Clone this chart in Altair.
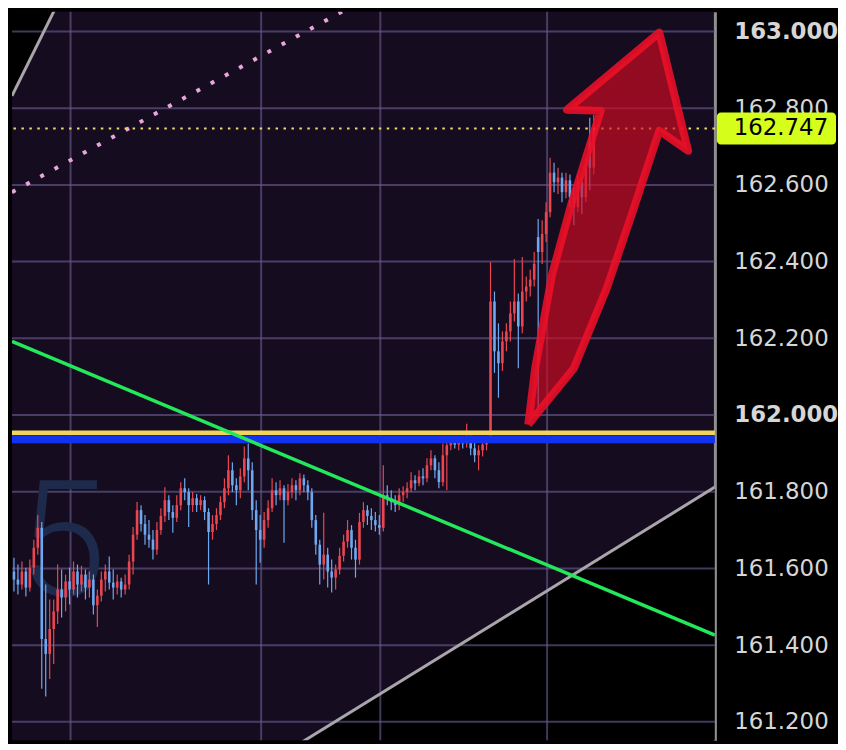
import altair as alt
import pandas as pd

# ---------------- candle data (price, 5-minute bars) ----------------
opens = [
    161.592, 161.571, 161.558, 161.592, 161.550, 161.602, 161.654, 161.706, 161.416, 161.377,
    161.442, 161.488, 161.545, 161.524, 161.566, 161.545, 161.592, 161.558, 161.584, 161.550,
    161.571, 161.504, 161.529, 161.571, 161.592, 161.563, 161.550, 161.566, 161.545, 161.558,
    161.618, 161.688, 161.752, 161.716, 161.688, 161.675, 161.649, 161.700, 161.737, 161.778,
    161.747, 161.732, 161.765, 161.809, 161.799, 161.765, 161.783, 161.765, 161.778, 161.747,
    161.695, 161.716, 161.739, 161.773, 161.809, 161.856, 161.817, 161.804, 161.840, 161.887,
    161.856, 161.752, 161.700, 161.675, 161.726, 161.757, 161.804, 161.791, 161.809, 161.778,
    161.799, 161.817, 161.804, 161.835, 161.817, 161.799, 161.726, 161.662, 161.610, 161.636,
    161.592, 161.576, 161.597, 161.633, 161.670, 161.700, 161.654, 161.623, 161.721, 161.752,
    161.737, 161.726, 161.713, 161.706, 161.791, 161.783, 161.773, 161.765, 161.791, 161.799,
    161.809, 161.830, 161.822, 161.840, 161.835, 161.869, 161.887, 161.856, 161.825, 161.895,
    161.921, 161.931, 161.923, 161.933, 161.926, 161.939, 161.913, 161.895, 161.908, 161.923,
    161.933, 162.296, 162.166, 162.135, 162.192, 162.218, 162.265, 162.296, 162.231, 162.322,
    162.335, 162.353, 162.464, 162.425, 162.472, 162.529, 162.632, 162.607, 162.619, 162.581,
    162.612, 162.568, 162.542, 162.607, 162.568, 162.710, 162.645,
]
highs = [
    161.628, 161.610, 161.618, 161.602, 161.623, 161.675, 161.739, 161.721, 161.558, 161.519,
    161.519, 161.610, 161.597, 161.584, 161.602, 161.618, 161.610, 161.607, 161.597, 161.592,
    161.584, 161.545, 161.592, 161.610, 161.631, 161.597, 161.584, 161.576, 161.584, 161.636,
    161.708, 161.773, 161.765, 161.739, 161.726, 161.700, 161.721, 161.757, 161.812, 161.791,
    161.765, 161.791, 161.825, 161.835, 161.809, 161.799, 161.794, 161.791, 161.788, 161.757,
    161.739, 161.757, 161.788, 161.835, 161.895, 161.877, 161.835, 161.861, 161.918, 161.926,
    161.877, 161.778, 161.739, 161.747, 161.778, 161.835, 161.825, 161.830, 161.817, 161.820,
    161.835, 161.830, 161.848, 161.845, 161.830, 161.809, 161.739, 161.675, 161.745, 161.654,
    161.623, 161.610, 161.654, 161.688, 161.726, 161.713, 161.675, 161.745, 161.773, 161.765,
    161.757, 161.747, 161.739, 161.869, 161.817, 161.804, 161.791, 161.809, 161.814, 161.825,
    161.851, 161.843, 161.856, 161.861, 161.887, 161.908, 161.895, 161.877, 161.926, 161.933,
    161.943, 161.941, 161.943, 161.941, 161.977, 161.954, 161.928, 161.921, 161.933, 161.946,
    162.399, 162.322, 162.239, 162.218, 162.239, 162.296, 162.407, 162.317, 162.412, 162.361,
    162.379, 162.425, 162.511, 162.508, 162.555, 162.671, 162.658, 162.645, 162.632, 162.632,
    162.627, 162.594, 162.627, 162.619, 162.671, 162.775, 162.783,
]
lows = [
    161.540, 161.532, 161.545, 161.527, 161.540, 161.584, 161.636, 161.286, 161.266, 161.312,
    161.351, 161.455, 161.472, 161.488, 161.506, 161.532, 161.524, 161.540, 161.519, 161.524,
    161.480, 161.447, 161.514, 161.540, 161.545, 161.519, 161.532, 161.524, 161.532, 161.545,
    161.584, 161.675, 161.696, 161.662, 161.654, 161.623, 161.636, 161.688, 161.721, 161.726,
    161.693, 161.721, 161.752, 161.778, 161.708, 161.747, 161.747, 161.752, 161.726, 161.558,
    161.675, 161.700, 161.726, 161.757, 161.791, 161.799, 161.765, 161.783, 161.825, 161.804,
    161.726, 161.558, 161.615, 161.654, 161.706, 161.747, 161.765, 161.778, 161.667, 161.765,
    161.783, 161.778, 161.791, 161.799, 161.778, 161.706, 161.636, 161.558, 161.571, 161.550,
    161.537, 161.545, 161.584, 161.618, 161.654, 161.623, 161.576, 161.610, 161.706, 161.713,
    161.700, 161.696, 161.688, 161.696, 161.765, 161.752, 161.747, 161.752, 161.773, 161.783,
    161.799, 161.804, 161.814, 161.817, 161.825, 161.856, 161.835, 161.809, 161.814, 161.804,
    161.908, 161.913, 161.908, 161.913, 161.915, 161.895, 161.877, 161.856, 161.892, 161.908,
    161.928, 162.110, 162.045, 162.115, 162.166, 162.192, 162.244, 162.122, 162.213, 162.296,
    162.309, 162.335, 162.016, 162.394, 162.451, 162.516, 162.581, 162.576, 162.555, 162.565,
    162.542, 162.495, 162.529, 162.524, 162.555, 162.586, 162.627,
]
closes = [
    161.571, 161.558, 161.592, 161.550, 161.602, 161.654, 161.706, 161.416, 161.377, 161.442,
    161.488, 161.545, 161.524, 161.566, 161.545, 161.592, 161.558, 161.584, 161.550, 161.571,
    161.504, 161.529, 161.571, 161.592, 161.563, 161.550, 161.566, 161.545, 161.558, 161.618,
    161.688, 161.752, 161.716, 161.688, 161.675, 161.649, 161.700, 161.737, 161.778, 161.747,
    161.732, 161.765, 161.809, 161.799, 161.765, 161.783, 161.765, 161.778, 161.747, 161.695,
    161.716, 161.739, 161.773, 161.809, 161.856, 161.817, 161.804, 161.840, 161.887, 161.856,
    161.752, 161.700, 161.675, 161.726, 161.757, 161.804, 161.791, 161.809, 161.778, 161.799,
    161.817, 161.804, 161.835, 161.817, 161.799, 161.726, 161.662, 161.610, 161.636, 161.592,
    161.576, 161.597, 161.633, 161.670, 161.700, 161.654, 161.623, 161.721, 161.752, 161.737,
    161.726, 161.713, 161.706, 161.791, 161.783, 161.773, 161.765, 161.791, 161.799, 161.809,
    161.830, 161.822, 161.840, 161.835, 161.869, 161.887, 161.856, 161.825, 161.895, 161.921,
    161.931, 161.923, 161.933, 161.926, 161.939, 161.913, 161.895, 161.908, 161.923, 161.933,
    162.296, 162.166, 162.135, 162.192, 162.218, 162.265, 162.296, 162.231, 162.322, 162.335,
    162.353, 162.394, 162.425, 162.472, 162.529, 162.632, 162.607, 162.619, 162.581, 162.612,
    162.568, 162.542, 162.607, 162.568, 162.653, 162.645, 162.746,
]
first_bar = 2

# ---------------- axes / annotation values ----------------
price_ticks = [161.2, 161.4, 161.6, 161.8, 162.0, 162.2, 162.4, 162.6, 162.8, 163.0]
time_grid = [16.25, 64.25, 94.25, 136.25]
x_domain = [1.5, 178.5]
y_domain = [161.1517, 163.0518]

green_bars = [1.5, 178.5]
green_prices = [162.192, 161.426]
chan_low_bars = [72, 178.5]
chan_low_prices = [161.131, 161.812]
chan_up_bars = [1.5, 13]
chan_up_prices = [162.832, 163.0725]
pink_bars = [1.5, 88.25]
pink_prices = [162.581, 163.0725]

last_price = 162.747
tag_low, tag_high = 162.7055, 162.7885
yellow_level = 161.954
blue_level = 161.937

arrow_bars = [131.5, 133.25, 137.5, 142.5, 149.75, 141.25, 164.5, 171.75, 164.5, 157.75, 151.25, 143.0, 131.5]
arrow_prices = [161.975, 162.122, 162.366, 162.555, 162.793, 162.796, 162.997, 162.689, 162.741, 162.529, 162.330, 162.122, 161.975]

LABEL_FONT = "DejaVu Sans"

# ---------------- build ----------------
n = len(closes)
candles = pd.DataFrame({
    "bar": list(range(first_bar, first_bar + n)),
    "open": opens, "high": highs, "low": lows, "close": closes,
})
candles["dir"] = ["up" if c >= o else "down" for o, c in zip(opens, closes)]

XS = alt.Scale(domain=x_domain, nice=False, zero=False, padding=0)
YS = alt.Scale(domain=y_domain, nice=False, zero=False, padding=0)

Y_AXIS = alt.Axis(
    orient="right", values=price_ticks, format=".3f", grid=False, ticks=False,
    labelPadding=19, labelFontSize=23, labelFont=LABEL_FONT, labelColor="#d6d6d6",
    labelFontWeight=alt.ExprRef(expr="(datum.value == 163 || datum.value == 162) ? 'bold' : 'normal'"),
    labelOverlap=False, labelBound=False, domainColor="#8e8e8e", domainWidth=3)


def xe(f):
    return alt.X(f + ":Q", scale=XS, axis=None, title=None)


def ye(f):
    return alt.Y(f + ":Q", scale=YS, axis=Y_AXIS, title=None)


candle_color = alt.Color("dir:N", scale=alt.Scale(domain=["up", "down"], range=["#ea4650", "#6ea8f0"]), legend=None)

black_low = alt.Chart(pd.DataFrame({"bar": chan_low_bars, "p": chan_low_prices, "base": [161.10, 161.10]})).mark_area(
    color="#000000", clip=True).encode(x=xe("bar"), y=ye("p"), y2="base:Q")
black_up = alt.Chart(pd.DataFrame({"bar": chan_up_bars, "p": chan_up_prices, "ceil": [163.10, 163.10]})).mark_area(
    color="#000000", clip=True).encode(x=xe("bar"), y=ye("p"), y2="ceil:Q")

grid_h = alt.Chart(pd.DataFrame({"p": price_ticks})).mark_rule(
    color="#6a5a90", opacity=0.62, strokeWidth=2).encode(y=ye("p"))
grid_v = alt.Chart(pd.DataFrame({"bar": time_grid})).mark_rule(
    color="#6a5a90", opacity=0.62, strokeWidth=2).encode(x=xe("bar"))

five = alt.Chart(pd.DataFrame({"bar": [14.0], "p": [161.532], "t": ["5"]})).mark_text(
    fontSize=162, font="Roboto", fontWeight=300, color="#1e2a4b", align="center", baseline="alphabetic").encode(
    x=xe("bar"), y=ye("p"), text="t:N")

wicks = alt.Chart(candles).mark_rule(strokeWidth=1.2).encode(
    x=xe("bar"), y=ye("low"), y2="high:Q", color=candle_color)
bodies = alt.Chart(candles).mark_bar(size=2.6).encode(
    x=xe("bar"), y=ye("open"), y2="close:Q", color=candle_color)

line_up = alt.Chart(pd.DataFrame({"bar": chan_up_bars, "p": chan_up_prices})).mark_line(
    color="#a9a5aa", strokeWidth=3, clip=True).encode(x=xe("bar"), y=ye("p"))
line_low = alt.Chart(pd.DataFrame({"bar": chan_low_bars, "p": chan_low_prices})).mark_line(
    color="#a9a5aa", strokeWidth=3, clip=True).encode(x=xe("bar"), y=ye("p"))
pink = alt.Chart(pd.DataFrame({"bar": pink_bars, "p": pink_prices})).mark_line(
    color="#e9a6dc", strokeWidth=4, strokeDash=[4, 12.3], clip=True).encode(x=xe("bar"), y=ye("p"))

yellow_dots = alt.Chart(pd.DataFrame({"p": [last_price]})).mark_rule(
    color="#e8dc6a", strokeWidth=2, strokeDash=[2.5, 5.5]).encode(y=ye("p"))
yellow_solid = alt.Chart(pd.DataFrame({"p": [yellow_level]})).mark_rule(
    color="#f2d35e", strokeWidth=4.5).encode(y=ye("p"))
blue_solid = alt.Chart(pd.DataFrame({"p": [blue_level]})).mark_rule(
    color="#1232f0", strokeWidth=8).encode(y=ye("p"))
green = alt.Chart(pd.DataFrame({"bar": green_bars, "p": green_prices})).mark_line(
    color="#22e85a", strokeWidth=3.5, clip=True).encode(x=xe("bar"), y=ye("p"))

arrow = alt.Chart(pd.DataFrame({"bar": arrow_bars, "p": arrow_prices, "k": list(range(len(arrow_bars)))})).mark_line(
    fill="#d40a22", fillOpacity=0.66, color="#ee1028", strokeWidth=8, strokeJoin="round",
    strokeOpacity=0.88).encode(x=xe("bar"), y=ye("p"), order="k:Q")

tag_box = alt.Chart(pd.DataFrame({"lo": [tag_low], "hi": [tag_high]})).mark_rect(
    color="#d5ff1a", cornerRadius=4).encode(
    x=alt.value(710), x2=alt.value(830), y=ye("lo"), y2="hi:Q")
tag_text = alt.Chart(pd.DataFrame({"p": [last_price], "t": [f"{last_price:.3f}"]})).mark_text(
    fontSize=23, font=LABEL_FONT, color="#000000", align="left", baseline="middle").encode(
    x=alt.value(727), y=ye("p"), text="t:N")

chart = alt.layer(
    black_low, black_up, grid_h, grid_v, five, wicks, bodies,
    line_up, line_low, pink, yellow_dots, yellow_solid, blue_solid, green,
    arrow, tag_box, tag_text,
).properties(width=708, height=734, background="#000000", padding=0).configure_view(
    fill="#150c20", stroke=None)

chart.save("out.html", embed_options={"renderer": "svg", "actions": False})
